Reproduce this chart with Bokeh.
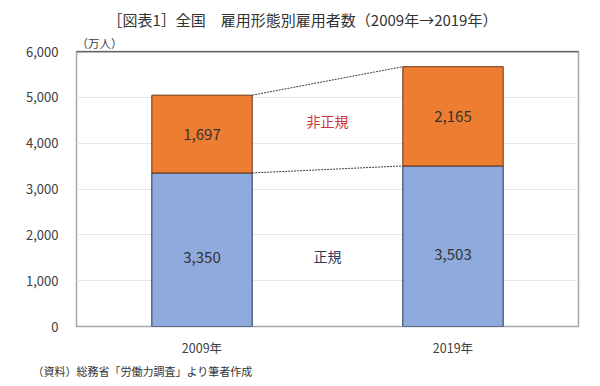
from bokeh.plotting import figure
from bokeh.models import ColumnDataSource, Label, Span, NumeralTickFormatter, FixedTicker, Title
from bokeh.transform import dodge
from bokeh.core.properties import value
from bokeh.embed import file_html
from bokeh.resources import INLINE

years = ["2009年", "2019年"]
regular = [3350, 3503]
nonregular = [1697, 2165]
y_ticks = [0, 1000, 2000, 3000, 4000, 5000, 6000]

FONT = "Noto Sans CJK JP"
totals = [a + b for a, b in zip(regular, nonregular)]

src = ColumnDataSource(dict(
    year=years,
    regular=regular,
    nonregular=nonregular,
    reg_lbl=[f"{v:,}" for v in regular],
    non_lbl=[f"{v:,}" for v in nonregular],
    reg_y=[v * 0.45 for v in regular],
    non_y=[r + n / 2 for r, n in zip(regular, nonregular)],
))

p = figure(width=600, height=386, x_range=years, y_range=(0, 6000), title=None,
           output_backend="svg", toolbar_location=None,
           min_border_left=76, min_border_right=22, min_border_top=51, min_border_bottom=60)

p.outline_line_color = "#a6a6a6"
p.outline_line_width = 1.5
p.background_fill_color = "white"
p.border_fill_color = "white"

p.xgrid.grid_line_color = None
p.ygrid.grid_line_color = "#e6e6e6"
p.ygrid.grid_line_width = 1

p.yaxis.ticker = FixedTicker(ticks=y_ticks)
p.yaxis.formatter = NumeralTickFormatter(format="0,0")
for ax in (p.xaxis[0], p.yaxis[0]):
    ax.axis_line_color = None
    ax.major_tick_line_color = None
    ax.minor_tick_line_color = None
    ax.major_tick_out = 0
    ax.major_tick_in = 0
    ax.major_label_text_font = FONT
    ax.major_label_text_color = "#404040"
p.yaxis.major_label_text_font_size = "13px"
p.yaxis.major_label_standoff = 18
p.xaxis.major_label_text_font_size = "12.5px"
p.xaxis.major_label_standoff = 11

p.vbar_stack(["regular", "nonregular"], x="year", width=0.4, source=src,
             fill_color=["#8faadc", "#ed7d31"],
             line_color=["#27324a", "#6b3514"], line_width=1)

# connecting dotted lines
seg = ColumnDataSource(dict(
    x0=years[:-1], x1=years[1:],
    t0=totals[:-1], t1=totals[1:],
    r0=regular[:-1], r1=regular[1:],
))
p.segment(x0=dodge("x0", 0.2, range=p.x_range), x1=dodge("x1", -0.2, range=p.x_range),
          y0="t0", y1="t1", source=seg, line_color="#404040", line_dash="2 1", line_width=1)
p.segment(x0=dodge("x0", 0.2, range=p.x_range), x1=dodge("x1", -0.2, range=p.x_range),
          y0="r0", y1="r1", source=seg, line_color="#404040", line_dash="2 1", line_width=1)

p.text(x="year", y="reg_y", text="reg_lbl", source=src, text_align="center",
       text_baseline="middle", text_font=value(FONT), text_font_size="15px",
       text_color="#333333")
p.text(x="year", y="non_y", text="non_lbl", source=src, text_align="center",
       text_baseline="middle", text_font=value(FONT), text_font_size="15px",
       text_color="#333333")

# top frame line
p.add_layout(Span(location=6000, dimension="width", line_color="#222222", line_width=1.5))

p.add_layout(Label(x=1.0, y=4473, text="非正規", text_align="center", text_baseline="middle",
                   text_font=FONT, text_font_size="14px", text_color="#d0343c"))
p.add_layout(Label(x=1.0, y=1549, text="正規", text_align="center", text_baseline="middle",
                   text_font=FONT, text_font_size="14px", text_color="#2e3a5c"))

# titles outside the frame
p.add_layout(Title(text="（万人）", align="left", offset=0, standoff=2,
                   text_font=FONT, text_font_size="11.5px", text_color="#404040",
                   text_font_style="normal"), "above")
p.add_layout(Title(text="［図表1］全国　雇用形態別雇用者数（2009年→2019年）", align="left",
                   offset=31, standoff=4,
                   text_font=FONT, text_font_size="15px", text_color="#333333",
                   text_font_style="normal"), "above")
p.add_layout(Title(text="（資料）総務省「労働力調査」より筆者作成", align="left",
                   offset=-44, standoff=2,
                   text_font=FONT, text_font_size="11px", text_color="#333333",
                   text_font_style="normal"), "below")

open("out.html", "w").write(file_html(p, INLINE))
